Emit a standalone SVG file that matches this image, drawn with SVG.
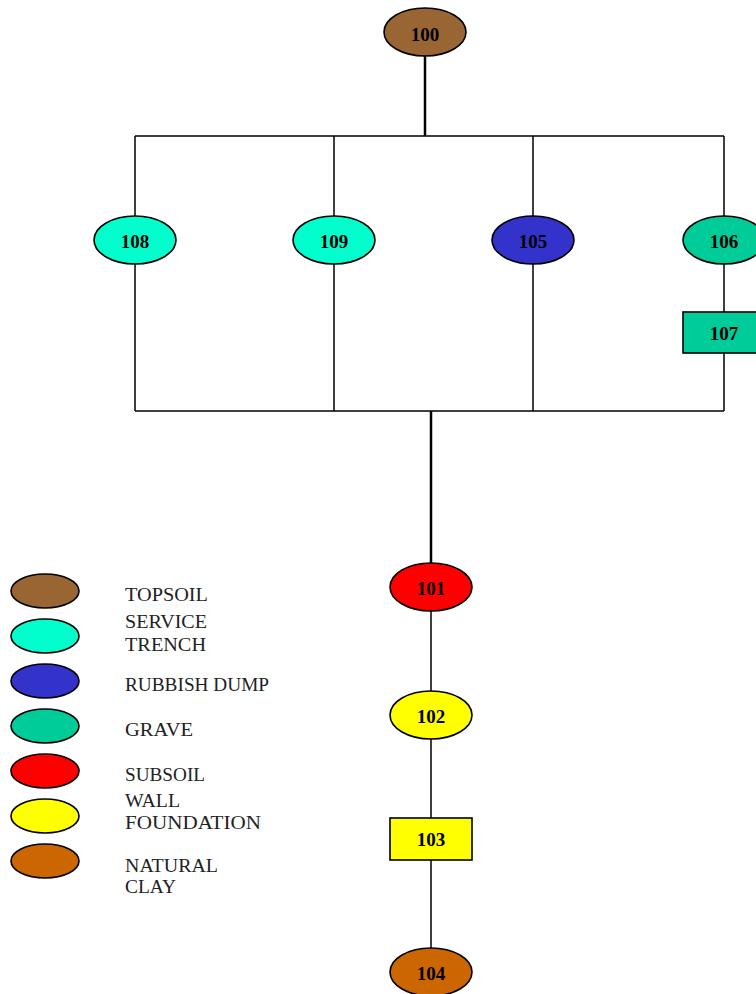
<svg xmlns="http://www.w3.org/2000/svg" width="756" height="994" viewBox="0 0 756 994">
<style>
.n{stroke:#000;stroke-width:1.6}
.c{stroke:#000;stroke-width:1.5;fill:none}
.t{stroke:#000;stroke-width:2.5;fill:none}
.lb{font-family:"Liberation Serif",serif;font-weight:bold;font-size:19px;text-anchor:middle;fill:#000}
.lg{font-family:"Liberation Serif",serif;font-size:19px;fill:#222}
</style>
<rect width="756" height="994" fill="#fff"/>
<g id="connectors">
<line class="t" x1="425" y1="56" x2="425" y2="136"/>
<line class="c" x1="135" y1="136" x2="724" y2="136"/>
<line class="c" x1="135" y1="411" x2="724" y2="411"/>
<line class="c" x1="135" y1="136" x2="135" y2="411"/>
<line class="c" x1="334" y1="136" x2="334" y2="411"/>
<line class="c" x1="533" y1="136" x2="533" y2="411"/>
<line class="c" x1="724" y1="136" x2="724" y2="411"/>
<line class="t" x1="431" y1="411" x2="431" y2="563"/>
<line class="c" x1="431" y1="611" x2="431" y2="691"/>
<line class="c" x1="431" y1="739" x2="431" y2="818"/>
<line class="c" x1="431" y1="860" x2="431" y2="948"/>
</g>
<g id="n100"><ellipse class="n" cx="425" cy="32" rx="41" ry="24" fill="#996633"/><text class="lb" x="425" y="41">100</text></g>
<g id="n108"><ellipse class="n" cx="135" cy="240" rx="41" ry="24" fill="#00FFCC"/><text class="lb" x="135" y="248">108</text></g>
<g id="n109"><ellipse class="n" cx="334" cy="240" rx="41" ry="24" fill="#00FFCC"/><text class="lb" x="334" y="248">109</text></g>
<g id="n105"><ellipse class="n" cx="533" cy="240" rx="41" ry="24" fill="#3333CC"/><text class="lb" x="533" y="248">105</text></g>
<g id="n106"><ellipse class="n" cx="724" cy="240" rx="41" ry="24" fill="#00CC99"/><text class="lb" x="724" y="248">106</text></g>
<g id="n107"><rect class="n" x="683" y="312" width="82" height="41" fill="#00CC99"/><text class="lb" x="724" y="340">107</text></g>
<g id="n101"><ellipse class="n" cx="431" cy="587" rx="41" ry="24" fill="#FF0000"/><text class="lb" x="431" y="595">101</text></g>
<g id="n102"><ellipse class="n" cx="431" cy="715" rx="41" ry="24" fill="#FFFF00"/><text class="lb" x="431" y="723">102</text></g>
<g id="n103"><rect class="n" x="390" y="818" width="82" height="42" fill="#FFFF00"/><text class="lb" x="431" y="846">103</text></g>
<g id="n104"><ellipse class="n" cx="431" cy="972" rx="41" ry="24" fill="#CC6600"/><text class="lb" x="431" y="980">104</text></g>
<g id="legend">
<ellipse class="n" cx="45" cy="591" rx="34" ry="17" fill="#996633"/>
<ellipse class="n" cx="45" cy="636" rx="34" ry="17" fill="#00FFCC"/>
<ellipse class="n" cx="45" cy="681" rx="34" ry="17" fill="#3333CC"/>
<ellipse class="n" cx="45" cy="726" rx="34" ry="17" fill="#00CC99"/>
<ellipse class="n" cx="45" cy="771" rx="34" ry="17" fill="#FF0000"/>
<ellipse class="n" cx="45" cy="816" rx="34" ry="17" fill="#FFFF00"/>
<ellipse class="n" cx="45" cy="861" rx="34" ry="17" fill="#CC6600"/>
<text class="lg" x="125" y="601" textLength="83" lengthAdjust="spacingAndGlyphs">TOPSOIL</text>
<text class="lg" x="125" y="628" textLength="82" lengthAdjust="spacingAndGlyphs">SERVICE</text>
<text class="lg" x="125" y="651" textLength="81" lengthAdjust="spacingAndGlyphs">TRENCH</text>
<text class="lg" x="125" y="691" textLength="144" lengthAdjust="spacingAndGlyphs">RUBBISH DUMP</text>
<text class="lg" x="125" y="736" textLength="68" lengthAdjust="spacingAndGlyphs">GRAVE</text>
<text class="lg" x="125" y="781" textLength="80" lengthAdjust="spacingAndGlyphs">SUBSOIL</text>
<text class="lg" x="125" y="807" textLength="55" lengthAdjust="spacingAndGlyphs">WALL</text>
<text class="lg" x="125" y="829" textLength="136" lengthAdjust="spacingAndGlyphs">FOUNDATION</text>
<text class="lg" x="125" y="872" textLength="93" lengthAdjust="spacingAndGlyphs">NATURAL</text>
<text class="lg" x="125" y="893" textLength="51" lengthAdjust="spacingAndGlyphs">CLAY</text>
</g>
</svg>
